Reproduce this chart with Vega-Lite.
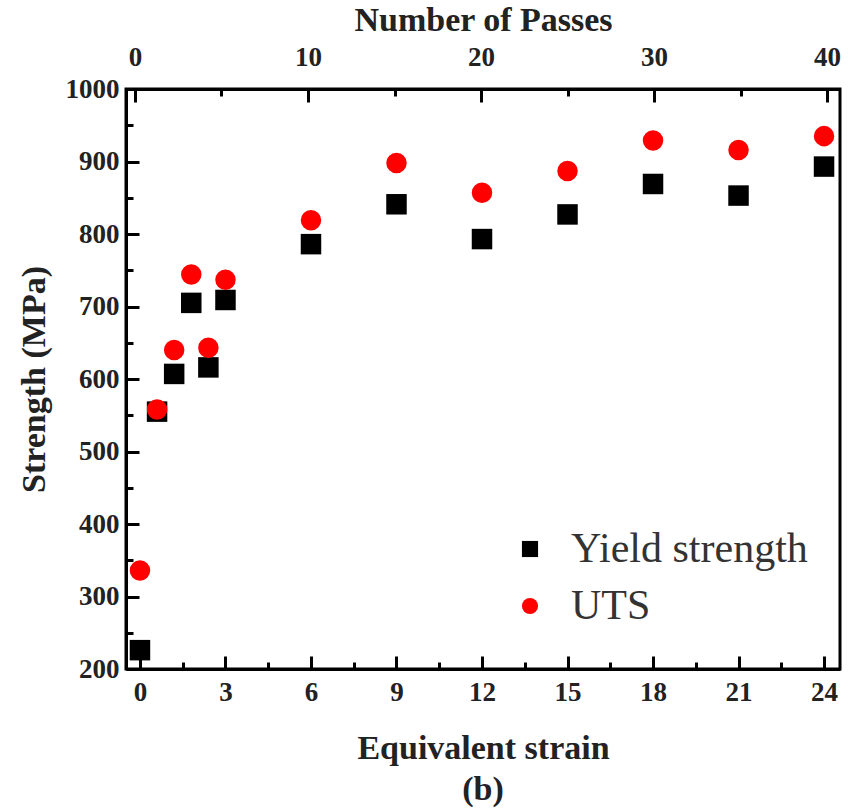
{
  "$schema": "https://vega.github.io/schema/vega-lite/v6.json",
  "autosize": "none",
  "width": 714,
  "height": 580,
  "padding": {"left": 126, "top": 89, "right": 8, "bottom": 141},
  "background": "white",
  "config": {
    "view": {"stroke": "black", "strokeWidth": 3},
    "font": "Liberation Serif",
    "axis": {
      "domainColor": "black", "domainWidth": 3, "tickColor": "black", "tickWidth": 3,
      "labelFont": "Liberation Serif", "labelFontWeight": "bold", "labelFontSize": 27, "labelColor": "#222",
      "titleFont": "Liberation Serif", "titleFontWeight": "bold", "titleFontSize": 34, "titleColor": "#222",
      "grid": false
    }
  },
  "title": {"text": "(b)", "orient": "bottom", "font": "Liberation Serif", "fontWeight": "bold", "fontSize": 34, "color": "#222", "offset": 8},
  "data": {"values": [
    {"strain": 0, "passes": 0, "strength": 226, "series": "Yield strength"},
    {"strain": 0.6, "passes": 1, "strength": 555, "series": "Yield strength"},
    {"strain": 1.2, "passes": 2, "strength": 607, "series": "Yield strength"},
    {"strain": 1.8, "passes": 3, "strength": 705, "series": "Yield strength"},
    {"strain": 2.4, "passes": 4, "strength": 616, "series": "Yield strength"},
    {"strain": 3, "passes": 5, "strength": 709, "series": "Yield strength"},
    {"strain": 6, "passes": 10, "strength": 786, "series": "Yield strength"},
    {"strain": 9, "passes": 15, "strength": 841, "series": "Yield strength"},
    {"strain": 12, "passes": 20, "strength": 793, "series": "Yield strength"},
    {"strain": 15, "passes": 25, "strength": 827, "series": "Yield strength"},
    {"strain": 18, "passes": 30, "strength": 869, "series": "Yield strength"},
    {"strain": 21, "passes": 35, "strength": 853, "series": "Yield strength"},
    {"strain": 24, "passes": 40, "strength": 893, "series": "Yield strength"},
    {"strain": 0, "passes": 0, "strength": 336, "series": "UTS"},
    {"strain": 0.6, "passes": 1, "strength": 558, "series": "UTS"},
    {"strain": 1.2, "passes": 2, "strength": 640, "series": "UTS"},
    {"strain": 1.8, "passes": 3, "strength": 744, "series": "UTS"},
    {"strain": 2.4, "passes": 4, "strength": 643, "series": "UTS"},
    {"strain": 3, "passes": 5, "strength": 737, "series": "UTS"},
    {"strain": 6, "passes": 10, "strength": 819, "series": "UTS"},
    {"strain": 9, "passes": 15, "strength": 898, "series": "UTS"},
    {"strain": 12, "passes": 20, "strength": 857, "series": "UTS"},
    {"strain": 15, "passes": 25, "strength": 887, "series": "UTS"},
    {"strain": 18, "passes": 30, "strength": 929, "series": "UTS"},
    {"strain": 21, "passes": 35, "strength": 916, "series": "UTS"},
    {"strain": 24, "passes": 40, "strength": 935, "series": "UTS"}
  ]},
  "layer": [
    {
      "mark": {"type": "point", "filled": true, "opacity": 1, "size": 420},
      "encoding": {
        "x": {"field": "strain", "type": "quantitative",
          "scale": {"domain": [-0.49, 24.56], "nice": false, "zero": false},
          "axis": {"orient": "bottom", "title": "Equivalent strain", "titlePadding": 26,
            "values": [0, 3, 6, 9, 12, 15, 18, 21, 24], "format": "d",
            "ticks": false, "labelPadding": 10}},
        "y": {"field": "strength", "type": "quantitative",
          "scale": {"domain": [200, 1000], "nice": false, "zero": false},
          "axis": {"orient": "left", "title": "Strength (MPa)", "titlePadding": 14, "format": "d",
            "values": [200, 300, 400, 500, 600, 700, 800, 900, 1000],
            "ticks": false, "labelPadding": 7}},
        "color": {"field": "series", "type": "nominal",
          "scale": {"domain": ["Yield strength", "UTS"], "range": ["#000000", "#ff0000"]},
          "legend": {"title": null, "orient": "none", "legendX": 383, "legendY": 439,
            "labelFont": "Liberation Serif", "labelFontSize": 42, "labelColor": "#333", "labelLimit": 500,
            "symbolSize": 260, "rowPadding": 15, "labelOffset": 20, "symbolStrokeWidth": 0}},
        "shape": {"field": "series", "type": "nominal",
          "scale": {"domain": ["Yield strength", "UTS"], "range": ["square", "circle"]}}
      }
    },
    {
      "mark": {"type": "point", "opacity": 0},
      "encoding": {
        "x": {"field": "passes", "type": "quantitative",
          "scale": {"domain": [-0.52, 40.75], "nice": false, "zero": false},
          "axis": {"orient": "top", "title": "Number of Passes", "titlePadding": 6, "format": "d",
            "values": [0, 10, 20, 30, 40],
            "ticks": false, "labelPadding": 18}},
        "y": {"field": "strength", "type": "quantitative",
          "axis": {"orient": "left", "title": null, "labels": false, "domain": false,
            "values": [200, 300, 400, 500, 600, 700, 800, 900, 1000], "tickSize": -13}}
      }
    },
    {
      "mark": {"type": "point", "opacity": 0},
      "encoding": {
        "x": {"field": "strain", "type": "quantitative",
          "scale": {"domain": [-0.49, 24.56], "nice": false, "zero": false},
          "axis": {"orient": "bottom", "title": null, "labels": false, "domain": false,
            "values": [0, 3, 6, 9, 12, 15, 18, 21, 24], "tickSize": -13}},
        "y": {"field": "strength", "type": "quantitative",
          "axis": {"orient": "left", "title": null, "labels": false, "domain": false,
            "values": [250, 350, 450, 550, 650, 750, 850, 950], "tickSize": -7}}
      }
    },
    {
      "mark": {"type": "point", "opacity": 0},
      "encoding": {
        "x": {"field": "strain", "type": "quantitative",
          "scale": {"domain": [-0.49, 24.56], "nice": false, "zero": false},
          "axis": {"orient": "bottom", "title": null, "labels": false, "domain": false,
            "values": [1.5, 4.5, 7.5, 10.5, 13.5, 16.5, 19.5, 22.5], "tickSize": -7}},
        "y": {"field": "strength", "type": "quantitative", "axis": null}
      }
    },
    {
      "mark": {"type": "point", "opacity": 0},
      "encoding": {
        "x": {"field": "passes", "type": "quantitative",
          "scale": {"domain": [-0.52, 40.75], "nice": false, "zero": false},
          "axis": {"orient": "top", "title": null, "labels": false, "domain": false,
            "values": [0, 10, 20, 30, 40], "tickSize": -13}},
        "y": {"field": "strength", "type": "quantitative", "axis": null}
      }
    },
    {
      "mark": {"type": "point", "opacity": 0},
      "encoding": {
        "x": {"field": "passes", "type": "quantitative",
          "scale": {"domain": [-0.52, 40.75], "nice": false, "zero": false},
          "axis": {"orient": "top", "title": null, "labels": false, "domain": false,
            "values": [5, 15, 25, 35], "tickSize": -7}},
        "y": {"field": "strength", "type": "quantitative", "axis": null}
      }
    }
  ],
  "resolve": {"scale": {"x": "independent"}, "axis": {"y": "independent"}}
}
